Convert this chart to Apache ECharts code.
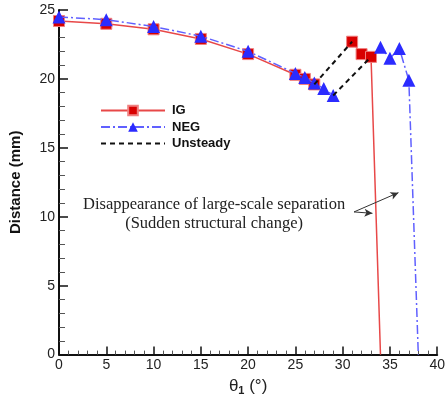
<!DOCTYPE html>
<html><head><meta charset="utf-8">
<script src="https://cdn.jsdelivr.net/npm/echarts@6/dist/echarts.min.js"></script>
<style>html,body{margin:0;padding:0;background:#fff}#c{width:448px;height:401px}</style>
</head><body><div id="c"></div>
<script>
// Data
var igX1 = [0, 5, 10, 15, 20, 25, 26, 27];
var igY1 = [24.2, 24.0, 23.6, 22.9, 21.8, 20.3, 20.0, 19.6];
var igX2 = [31, 32, 33];
var igY2 = [22.7, 21.8, 21.6];
var igDropX = 34, igDropY = 0;
var negX1 = [0, 5, 10, 15, 20, 25, 26, 27, 28, 29];
var negY1 = [24.5, 24.3, 23.8, 23.1, 22.0, 20.4, 20.1, 19.7, 19.3, 18.8];
var negX2 = [34, 35, 36, 37];
var negY2 = [22.3, 21.5, 22.2, 19.9];
var negDropX = 38, negDropY = 0;
var unsteadyA = [[27, 19.6], [31, 22.7]];
var unsteadyB = [[29, 18.8], [33, 21.6]];
var xTicks = [0, 5, 10, 15, 20, 25, 30, 35, 40];
var yTicks = [0, 5, 10, 15, 20, 25];
var noteLines = ['Disappearance of large-scale separation', '(Sudden structural change)'];

function pairs(xs, ys) { return xs.map(function (x, i) { return [x, ys[i]]; }); }

var red = '#d80000', redLine = '#e84848', blue = '#2b2bff', blueLine = '#6060ff';
var chart = echarts.init(document.getElementById('c'));
var igSeg2 = pairs(igX2, igY2).concat([{ value: [igDropX, igDropY], symbol: 'none' }]);
var negSeg2 = pairs(negX2, negY2).concat([{ value: [negDropX, negDropY], symbol: 'none' }]);
var dashDot = [9, 3, 2, 3];
var font = 'Arial, "Liberation Sans", sans-serif';

chart.setOption({
  animation: false,
  grid: { left: 57, right: 9, top: 10, bottom: 40 },
  xAxis: {
    type: 'value', min: 0, max: 40, interval: 5,
    axisLine: { onZero: false, lineStyle: { color: '#111', width: 2 } },
    axisTick: { inside: true, length: 8, lineStyle: { color: '#111', width: 1.5 } },
    minorTick: { show: true, splitNumber: 5, length: 4, lineStyle: { color: '#555' } },
    splitLine: { show: false },
    axisLabel: { color: '#222', fontSize: 14, fontFamily: font, margin: 4 },
    name: '{t|θ}{s|1}{t| (°)}', nameLocation: 'middle', nameGap: 18,
    nameTextStyle: { rich: { t: { fontSize: 17, fontFamily: font, color: '#222' }, s: { fontSize: 11, fontFamily: font, fontWeight: 'bold', color: '#222', verticalAlign: 'bottom', padding: [9, 0, 0, 0] } } }
  },
  yAxis: {
    type: 'value', min: 0, max: 25, interval: 5,
    axisLine: { onZero: false, lineStyle: { color: '#111', width: 2 } },
    axisTick: { inside: true, length: 9, lineStyle: { color: '#111', width: 1.5 } },
    minorTick: { show: true, splitNumber: 5, length: 6, lineStyle: { color: '#555' } },
    splitLine: { show: false },
    axisLabel: { color: '#222', fontSize: 14, fontFamily: font, margin: 4 },
    name: 'Distance (mm)', nameLocation: 'middle', nameGap: 36,
    nameTextStyle: { fontSize: 15, fontWeight: 'bold', fontFamily: font, color: '#111' }
  },
  legend: {
    orient: 'vertical', left: 95, top: 99, itemWidth: 64, itemHeight: 12, itemGap: 3.5,
    data: ['IG', 'NEG', { name: 'Unsteady', itemStyle: { color: 'rgba(0,0,0,0)', borderWidth: 0 } }],
    textStyle: { fontSize: 13, fontWeight: 'bold', fontFamily: font, color: '#111', padding: [0, 0, 0, 2] }
  },
  series: [
    { name: 'IG', type: 'line', data: pairs(igX1, igY1), symbol: 'rect', symbolSize: 11, z: 3,
      lineStyle: { color: redLine, width: 1.5 }, itemStyle: { color: red, borderColor: '#f08080', borderWidth: 1 } },
    { name: 'IG', type: 'line', data: igSeg2, symbol: 'rect', symbolSize: 11, z: 3,
      lineStyle: { color: redLine, width: 1.5 }, itemStyle: { color: red, borderColor: '#f08080', borderWidth: 1 } },
    { name: 'NEG', type: 'line', data: pairs(negX1, negY1), symbol: 'triangle', symbolSize: 13, z: 4,
      lineStyle: { color: blueLine, width: 1.5, type: dashDot }, itemStyle: { color: blue } },
    { name: 'NEG', type: 'line', data: negSeg2, symbol: 'triangle', symbolSize: 13, z: 4,
      lineStyle: { color: blueLine, width: 1.5, type: dashDot }, itemStyle: { color: blue } },
    { name: 'Unsteady', type: 'line', data: unsteadyA, symbol: 'none', z: 5,
      lineStyle: { color: '#111', width: 2, type: [5, 4] }, itemStyle: { color: '#111' } },
    { name: 'Unsteady', type: 'line', data: unsteadyB, symbol: 'none', z: 5,
      lineStyle: { color: '#111', width: 2, type: [5, 4] }, itemStyle: { color: '#111' },
      markLine: {
        silent: true, symbol: ['none', 'arrow'], symbolSize: [6, 8], label: { show: false },
        lineStyle: { color: '#333', width: 1, type: 'solid' },
        data: [
          [{ coord: [31.2, 10.35] }, { coord: [35.9, 11.75] }],
          [{ coord: [31.2, 10.35] }, { coord: [33.15, 10.25] }]
        ]
      }
    }
  ]
});

var c1 = chart.convertToPixel({ gridIndex: 0 }, [16.4, 10.9]);
var c2 = chart.convertToPixel({ gridIndex: 0 }, [16.4, 9.5]);
var serif = '"Liberation Serif", "Times New Roman", serif';
chart.setOption({
  graphic: [
    { type: 'text', x: c1[0], y: c1[1], style: { text: noteLines[0], fontSize: 16.5, fontFamily: serif, fill: '#222', align: 'center', verticalAlign: 'middle' } },
    { type: 'text', x: c2[0], y: c2[1], style: { text: noteLines[1], fontSize: 16.5, fontFamily: serif, fill: '#222', align: 'center', verticalAlign: 'middle' } }
  ]
});
</script></body></html>
